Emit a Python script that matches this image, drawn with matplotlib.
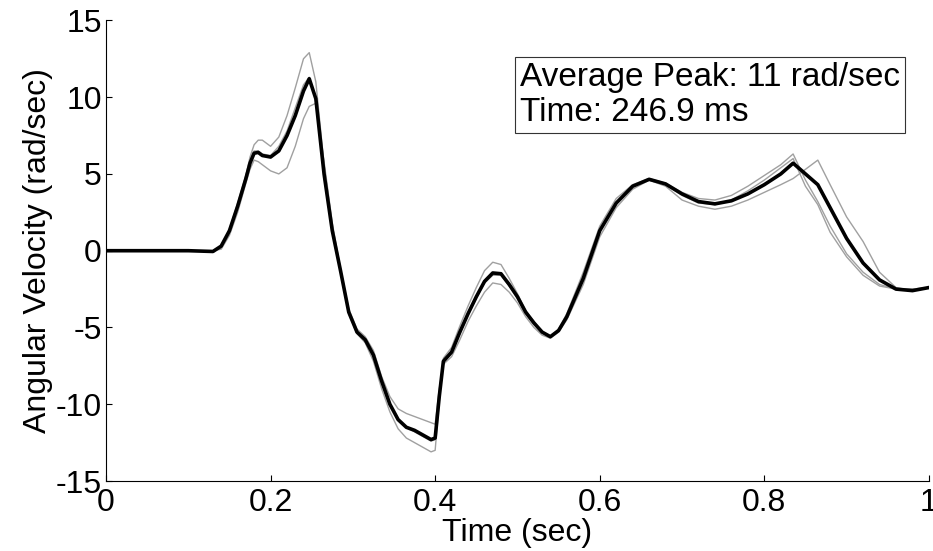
import numpy as np
import matplotlib
matplotlib.use('Agg')
import matplotlib.pyplot as plt

plt.rcParams['font.family'] = ['Liberation Sans', 'DejaVu Sans']
plt.rcParams['axes.unicode_minus'] = False

# time (sec) shared by all traces
t = [0.0, 0.05, 0.10, 0.13, 0.14, 0.15, 0.16, 0.17, 0.175, 0.18, 0.185, 0.19,
     0.20, 0.21, 0.22, 0.23, 0.24, 0.247, 0.255, 0.265, 0.275, 0.285, 0.295,
     0.305, 0.315, 0.325, 0.335, 0.345, 0.355, 0.365, 0.375, 0.385, 0.395,
     0.400, 0.405, 0.41, 0.42, 0.43, 0.44, 0.45, 0.46, 0.47, 0.48, 0.49, 0.50,
     0.51, 0.52, 0.53, 0.54, 0.55, 0.56, 0.58, 0.60, 0.62, 0.64, 0.66, 0.68,
     0.70, 0.72, 0.74, 0.76, 0.78, 0.80, 0.82, 0.835, 0.85, 0.865, 0.88, 0.90,
     0.92, 0.94, 0.96, 0.98, 1.00]

# average angular velocity (rad/sec)
avg = [0, 0, 0, -0.05, 0.3, 1.3, 2.9, 4.7, 5.7, 6.35, 6.4, 6.2,
       6.1, 6.5, 7.5, 8.8, 10.4, 11.2, 9.9, 5.0, 1.3, -1.3, -4.0,
       -5.3, -5.8, -6.8, -8.5, -10.0, -11.0, -11.5, -11.7, -12.0, -12.3,
       -12.2, -9.5, -7.2, -6.6, -5.3, -4.1, -3.0, -2.0, -1.45, -1.5, -2.2, -3.0,
       -4.0, -4.7, -5.3, -5.6, -5.2, -4.3, -1.8, 1.3, 3.1, 4.2, 4.65, 4.35,
       3.7, 3.2, 3.05, 3.25, 3.7, 4.3, 5.0, 5.7, 5.0, 4.3, 2.8, 0.8,
       -0.8, -1.9, -2.5, -2.6, -2.4]

# individual trials
trial1 = [0, 0, 0, 0, 0.2, 1.2, 2.8, 4.9, 6.1, 6.9, 7.2, 7.2,
          6.8, 7.4, 8.8, 10.6, 12.5, 12.9, 11.0, 5.6, 1.6, -1.2, -4.1,
          -5.4, -6.0, -7.2, -9.0, -10.5, -11.6, -12.2, -12.5, -12.8, -13.1,
          -13.0, -9.8, -7.0, -6.3, -4.9, -3.6, -2.4, -1.3, -0.75, -0.9, -1.8, -2.8,
          -3.9, -4.6, -5.3, -5.6, -5.1, -4.1, -1.4, 1.6, 3.4, 4.3, 4.7, 4.4,
          3.8, 3.4, 3.3, 3.6, 4.2, 4.9, 5.6, 6.3, 4.6, 3.2, 1.6, -0.2,
          -1.4, -2.2, -2.5, -2.5, -2.4]

trial2 = [0, 0, 0, 0, 0.1, 1.0, 2.5, 4.4, 5.3, 5.9, 5.8, 5.6,
          5.2, 5.0, 5.4, 6.8, 8.6, 9.4, 9.6, 5.8, 1.8, -1.2, -3.8,
          -5.1, -5.6, -6.5, -8.2, -9.5, -10.3, -10.6, -10.8, -11.0, -11.2,
          -11.3, -9.0, -7.4, -6.9, -5.8, -4.6, -3.6, -2.7, -2.1, -2.2, -2.7, -3.4,
          -4.3, -5.0, -5.5, -5.7, -5.3, -4.5, -2.2, 0.9, 2.8, 4.0, 4.6, 4.3,
          3.6, 3.1, 3.0, 3.3, 3.9, 4.6, 5.4, 6.0, 4.2, 3.0, 1.2, -0.4,
          -1.6, -2.3, -2.5, -2.5, -2.4]

trial3 = [0, 0, 0, 0, 0.3, 1.4, 3.1, 4.9, 5.9, 6.5, 6.5, 6.3,
          6.2, 6.8, 7.8, 9.3, 10.8, 11.3, 9.8, 4.8, 1.2, -1.4, -4.0,
          -5.3, -5.8, -6.8, -8.4, -10.0, -11.0, -11.5, -11.8, -12.1, -12.4,
          -12.3, -9.6, -7.3, -6.7, -5.4, -4.2, -3.1, -2.1, -1.6, -1.6, -2.3, -3.1,
          -4.1, -4.8, -5.3, -5.6, -5.2, -4.3, -1.8, 1.3, 3.1, 4.2, 4.6, 4.2,
          3.3, 2.9, 2.7, 2.9, 3.3, 3.8, 4.3, 4.7, 5.3, 5.9, 4.3, 2.2,
          0.6, -1.4, -2.4, -2.6, -2.4]

peak_text = 'Average Peak: 11 rad/sec\nTime: 246.9 ms'

fig = plt.figure(figsize=(9.33, 5.51), dpi=100)
ax = fig.add_axes([0.1136, 0.127, 0.882, 0.836])

for tr in [trial1, trial2, trial3]:
    ax.plot(t, tr, color='#a0a0a0', lw=1.0)
ax.plot(t, avg, color='black', lw=2.6, solid_joinstyle='round')

ax.set_xlim(0, 1)
ax.set_ylim(-15, 15)
ax.set_xticks([0, 0.2, 0.4, 0.6, 0.8, 1])
ax.set_xticklabels(['0', '0.2', '0.4', '0.6', '0.8', '1'])
ax.set_yticks([-15, -10, -5, 0, 5, 10, 15])

ax.spines['top'].set_visible(False)
ax.spines['right'].set_visible(False)
ax.spines['left'].set_linewidth(0.8)
ax.spines['bottom'].set_linewidth(0.8)
ax.tick_params(direction='in', length=4, width=0.8, labelsize=23)
ax.tick_params(axis='x', pad=5)
ax.tick_params(axis='y', pad=3)

ax.set_xlabel('Time (sec)', fontsize=23, labelpad=0)
ax.set_ylabel('Angular Velocity (rad/sec)', fontsize=23, labelpad=2)

ax.text(0.503, 0.909, peak_text, transform=ax.transAxes, fontsize=24,
        va='top', ha='left', linespacing=1.15,
        bbox=dict(boxstyle='square,pad=0.15', fc='white', ec='#333333', lw=0.8))

fig.savefig('out.png', dpi=100)
